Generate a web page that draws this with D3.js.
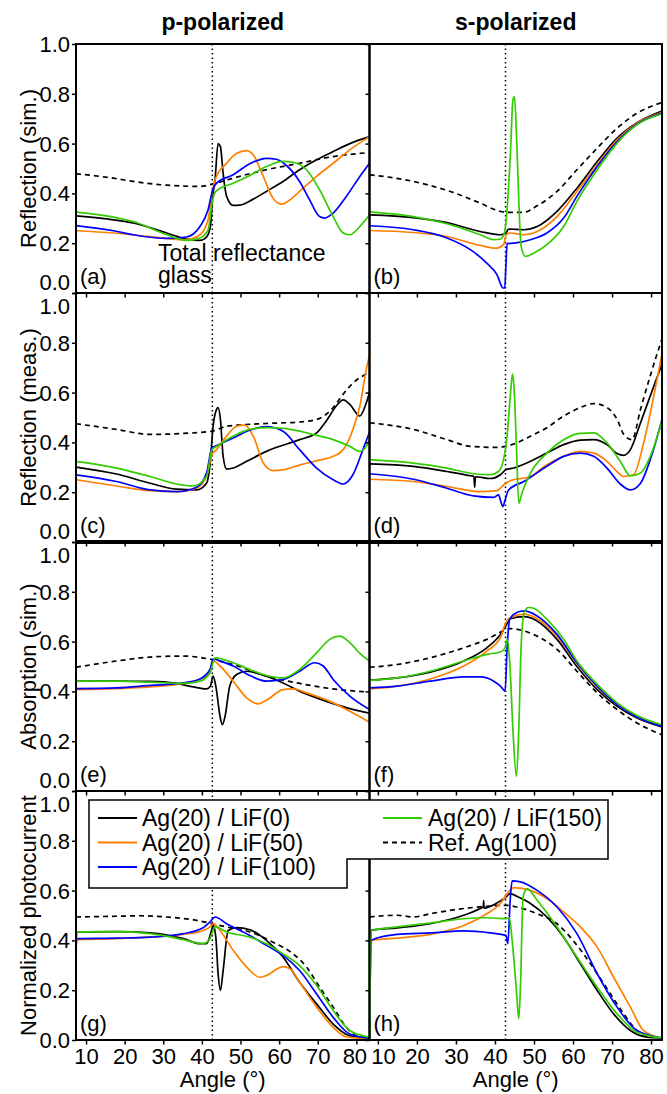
<!DOCTYPE html>
<html>
<head>
<meta charset="utf-8">
<script src="https://cdn.jsdelivr.net/npm/d3@7"></script>
<style>
  body { margin: 0; background: #fff; }
  text { font-family: "Liberation Sans", Arial, sans-serif; }
</style>
</head>
<body>
<div id="chart"></div>
<script>
// series labels and colours
const seriesNames = ["Ag(20) / LiF(0)", "Ag(20) / LiF(50)", "Ag(20) / LiF(100)", "Ag(20) / LiF(150)", "Ref. Ag(100)"];
const seriesColors = ["#000000", "#ff7f00", "#0000ff", "#33cc00", "#000000"];
const yTicks = [0, 0.2, 0.4, 0.6, 0.8, 1.0];
const xTicks = [10, 20, 30, 40, 50, 60, 70, 80];
const rowLabels = ["Reflection (sim.)", "Reflection (meas.)", "Absorption (sim.)", "Normalized photocurrent"];
const colTitles = ["p-polarized", "s-polarized"];
const criticalAngle = 42.7;

// (a) reflection sim, p
const a_lif0 = [[7.4,.31],[17.1,.294],[22.2,.281],[30.9,.241],[36,.217],[39.5,.211],[41.2,.225],[42.2,.267],[42.8,.388],[43.4,.455],[44.2,.6],[44.8,.588],[45.5,.48],[46.4,.388],[48.1,.352],[49.8,.353],[53.3,.377],[56.7,.408],[61,.448],[65.3,.495],[69.7,.535],[74,.568],[78.3,.6],[83.4,.628]];
const a_lif50 = [[7.4,.25],[17.1,.241],[22.2,.234],[30.9,.219],[36,.214],[39.5,.234],[41.6,.294],[42.6,.40],[43.4,.455],[46.4,.521],[49,.561],[51.6,.572],[53.3,.555],[55.9,.468],[58.4,.381],[60.6,.357],[62.8,.374],[65.3,.408],[69.7,.468],[74,.521],[78.3,.575],[83.4,.628]];
const a_lif100 = [[7.4,.271],[17.1,.25],[22.2,.234],[30.9,.219],[36,.225],[39.5,.267],[41.6,.334],[42.8,.414],[43.8,.441],[48.1,.475],[52.4,.519],[56.7,.541],[59.3,.537],[61.9,.512],[65.3,.448],[67.9,.374],[70.5,.307],[71.8,.301],[74,.321],[77.4,.388],[80.9,.468],[83.4,.521]];
const a_lif150 = [[7.4,.325],[17.1,.305],[22.2,.287],[30.9,.234],[36,.211],[39.5,.221],[41.6,.254],[42.8,.374],[43.6,.408],[48.1,.441],[52.4,.472],[56.7,.508],[61,.529],[63.6,.525],[67.1,.495],[70.5,.414],[74,.307],[76.6,.241],[78.3,.234],[80.9,.267],[83.4,.314]];
const a_ref = [[7.4,.479],[17.1,.461],[22.2,.448],[30.9,.433],[39.5,.428],[42.6,.437],[48,.461],[56.7,.495],[65.3,.521],[74,.548],[83.4,.564]];

// (b) reflection sim, s
const b_lif0 = [[7.9,.314],[19.1,.303],[27.7,.283],[36.2,.247],[41.4,.234],[42.8,.241],[43.5,.257],[47.4,.254],[50.8,.267],[55.9,.328],[61,.421],[66.2,.528],[71.3,.622],[76.4,.684],[82.8,.731]];
const b_lif50 = [[7.9,.251],[19.1,.243],[27.7,.227],[36.2,.191],[40.5,.18],[42.2,.194],[42.9,.234],[43.9,.241],[47.4,.234],[50.8,.247],[55.9,.307],[61,.408],[66.2,.515],[71.3,.615],[76.4,.682],[82.8,.725]];
const b_lif100 = [[7.9,.27],[19.1,.254],[27.7,.221],[33.7,.174],[37.9,.12],[40.5,.074],[42.1,.02],[42.5,.02],[42.8,.107],[43.1,.198],[44.8,.2],[49.1,.214],[53.3,.241],[57.6,.301],[61,.388],[66.2,.508],[71.3,.608],[76.4,.678],[82.8,.722]];
const b_lif150 = [[7.9,.326],[19.1,.307],[27.7,.278],[36.2,.234],[39.7,.214],[41.4,.217],[42.4,.241],[43.1,.334],[44,.575],[44.6,.775],[45,.789],[45.5,.642],[46.1,.374],[46.7,.187],[47.8,.147],[49.9,.16],[53.3,.194],[57.6,.267],[61,.368],[66.2,.495],[71.3,.602],[76.4,.676],[82.8,.719]];
const b_ref = [[7.9,.475],[19.1,.448],[27.7,.412],[36.2,.361],[40.5,.332],[42.8,.324],[47.4,.324],[50.8,.35],[55.9,.408],[61,.495],[66.2,.582],[71.3,.662],[76.4,.722],[82.8,.765]];

// (c) reflection measured, p
const c_lif0 = [[7.4,.301],[17.9,.273],[26.6,.236],[33.4,.212],[38.6,.209],[41.2,.236],[42.1,.31],[42.9,.465],[43.8,.533],[44.2,.54],[44.8,.492],[45.5,.344],[46.4,.293],[48.1,.297],[51.6,.324],[56.7,.364],[65.3,.411],[69.7,.438],[72.2,.486],[74.8,.546],[76.6,.571],[78.3,.553],[80.9,.506],[82.6,.56],[83.4,.6]];
const c_lif50 = [[7.4,.25],[17.9,.225],[26.6,.206],[33.4,.202],[38.6,.216],[41.2,.263],[42.6,.351],[43.8,.371],[46.4,.425],[49,.465],[51.1,.469],[53.3,.425],[55.9,.317],[58.4,.287],[61,.29],[65.3,.309],[69.7,.326],[74,.344],[76.6,.371],[79.1,.452],[80.9,.546],[82.6,.695],[83.4,.749]];
const c_lif100 = [[7.4,.27],[17.9,.243],[26.6,.209],[33.4,.202],[38.6,.22],[41.2,.277],[42.6,.378],[43.8,.387],[48.1,.418],[52.4,.449],[56.7,.463],[61,.445],[65.3,.371],[69.7,.297],[74,.25],[76.6,.233],[79.1,.27],[81.7,.371],[83.4,.441]];
const c_lif150 = [[7.4,.324],[17.9,.297],[26.6,.263],[33.4,.233],[37.8,.225],[41.2,.263],[42.6,.371],[43.8,.384],[48.1,.425],[52.4,.452],[56.7,.459],[61,.456],[65.3,.445],[69.7,.428],[74,.411],[78.3,.384],[80.9,.364],[82.6,.384],[83.4,.411]];
const c_ref = [[7.4,.475],[17.9,.452],[26.6,.432],[35.2,.436],[42.6,.445],[46.4,.465],[56.7,.476],[65.3,.482],[69.7,.492],[74,.54],[76.6,.594],[79.1,.638],[83.4,.681]];

// (d) reflection measured, s
const d_lif0 = [[7.9,.314],[19.1,.304],[27.7,.283],[33.7,.266],[34.6,.263],[34.8,.22],[35,.262],[38.8,.255],[41.4,.27],[42.8,.29],[44.8,.297],[49.1,.324],[53.3,.357],[57.6,.391],[61.9,.409],[65.3,.411],[68.7,.391],[71.3,.355],[73,.348],[74.7,.371],[77.3,.479],[79.8,.587],[82.8,.715]];
const d_lif50 = [[7.9,.252],[19.1,.243],[27.7,.223],[36.2,.202],[40.5,.206],[42.2,.229],[43.9,.246],[49.1,.263],[53.3,.31],[57.6,.344],[61.9,.364],[65.3,.357],[68.7,.324],[71.3,.283],[73,.263],[75.5,.27],[78.1,.398],[80.7,.587],[82.8,.755]];
const d_lif100 = [[7.9,.274],[19.1,.252],[27.7,.216],[34.5,.185],[39.7,.179],[40.9,.189],[41.5,.162],[42,.142],[42.6,.169],[43.5,.209],[47.4,.243],[53.3,.304],[57.6,.344],[61.9,.357],[65.3,.344],[68.7,.297],[72.1,.233],[74.7,.209],[77.3,.236],[79.8,.331],[82.8,.492]];
const d_lif150 = [[7.9,.331],[19.1,.317],[27.7,.297],[34.5,.274],[38.8,.27],[40.9,.283],[42.2,.331],[43.1,.425],[44,.6],[44.5,.675],[45,.587],[45.5,.384],[46.1,.155],[46.9,.196],[49.1,.277],[53.3,.357],[57.6,.411],[61.9,.436],[65.3,.438],[68.7,.398],[72.1,.324],[74.7,.266],[77.3,.277],[79.8,.344],[82.8,.486]];
const d_ref = [[7.9,.479],[19.1,.452],[27.7,.411],[33.7,.384],[40.5,.38],[43.9,.389],[49.1,.425],[53.3,.459],[57.6,.506],[61.9,.54],[65.3,.556],[68.7,.54],[71.3,.492],[73,.432],[75.1,.411],[77.3,.533],[79.8,.668],[82.8,.816]];

// (e) absorption sim, p
const e_lif0 = [[7.4,.441],[17.9,.441],[26.6,.44],[33.4,.432],[37.8,.418],[41.2,.41],[42.2,.421],[42.9,.461],[43.6,.421],[44.7,.3],[45.3,.266],[46,.3],[47.2,.421],[49,.468],[51.6,.481],[56.7,.461],[61,.434],[65.3,.401],[69.7,.374],[74,.351],[78.3,.331],[83.4,.313]];
const e_lif50 = [[7.4,.407],[17.9,.411],[26.6,.418],[35.2,.432],[39.5,.448],[42.1,.475],[42.9,.522],[44.7,.502],[48.1,.441],[51.6,.374],[54.6,.35],[56.7,.364],[61,.407],[63.6,.41],[67.1,.394],[74,.354],[78.3,.32],[83.4,.276]];
const e_lif100 = [[7.4,.411],[17.9,.414],[26.6,.424],[35.2,.434],[39.5,.45],[42.1,.488],[42.9,.531],[44.7,.522],[48.1,.502],[52.4,.464],[56.7,.441],[61,.448],[65.3,.481],[69.2,.515],[71.4,.502],[74,.448],[78.3,.381],[83.4,.327]];
const e_lif150 = [[7.4,.441],[17.9,.441],[26.6,.437],[35.2,.432],[39.5,.441],[42.1,.475],[43.4,.535],[48.1,.515],[52.4,.488],[56.7,.464],[61,.454],[65.3,.488],[69.7,.555],[73.1,.609],[75.7,.622],[78.3,.596],[80.9,.553],[83.4,.522]];
const e_ref = [[7.4,.497],[17.9,.522],[26.6,.538],[35.2,.542],[42.6,.528],[48.1,.508],[56.7,.461],[65.3,.432],[74,.41],[83.4,.397]];

// (f) absorption sim, s
const f_lif0 = [[7.9,.445],[14.9,.454],[23.4,.477],[32,.522],[37.9,.575],[41.4,.629],[42.8,.663],[43.9,.692],[47.4,.7],[50.8,.683],[55.9,.609],[61,.5],[66.2,.407],[71.3,.34],[76.4,.293],[82.8,.257]];
const f_lif50 = [[7.9,.41],[14.9,.421],[23.4,.45],[32,.502],[37.9,.562],[41.4,.616],[42.8,.676],[43.9,.696],[47.4,.71],[50.8,.692],[55.9,.622],[61,.512],[66.2,.418],[71.3,.347],[76.4,.297],[82.8,.262]];
const f_lif100 = [[7.9,.414],[14.9,.421],[23.4,.441],[32,.458],[36.2,.458],[39.7,.441],[41.4,.421],[42.6,.401],[43.1,.569],[43.8,.69],[45.6,.717],[47.4,.723],[50.8,.703],[55.9,.629],[61,.515],[66.2,.421],[71.3,.347],[76.4,.297],[82.8,.259]];
const f_lif150 = [[7.9,.444],[14.9,.454],[23.4,.481],[32,.522],[37.9,.549],[41.4,.558],[42.6,.575],[43.1,.609],[43.8,.515],[44.6,.246],[45.5,.058],[46.1,.246],[46.7,.582],[47.5,.717],[48.6,.737],[49.9,.734],[53.3,.69],[57.6,.609],[61,.522],[66.2,.428],[71.3,.354],[76.4,.303],[82.8,.266]];
const f_ref = [[7.9,.497],[14.9,.508],[23.4,.535],[32,.575],[37.9,.609],[42.2,.643],[43.9,.652],[47.4,.643],[50.8,.622],[55.9,.569],[61,.481],[66.2,.394],[71.3,.327],[76.4,.273],[82.8,.226]];

// (g) photocurrent, p
const g_lif0 = [[7.4,.434],[17.9,.435],[26.6,.43],[35.2,.407],[39.5,.387],[41.2,.387],[42.5,.44],[42.9,.46],[43.6,.413],[44.2,.266],[44.8,.199],[45.5,.279],[46.8,.44],[49,.451],[52.4,.443],[56.7,.4],[61,.333],[65.3,.232],[69.7,.145],[74,.064],[78.3,.017],[83.4,.008]];
const g_lif50 = [[7.4,.403],[17.9,.407],[26.6,.413],[35.2,.424],[40.3,.44],[42.1,.454],[42.9,.467],[44.7,.44],[48.1,.36],[51.6,.293],[55,.252],[56.7,.259],[61,.295],[62.8,.286],[65.3,.232],[69.7,.132],[74,.051],[77.4,.013],[83.4,.004]];
const g_lif100 = [[7.4,.36],[7.6,.407],[17.9,.409],[26.6,.413],[35.2,.427],[40.3,.451],[42.1,.474],[43.4,.494],[46.4,.467],[52.4,.42],[56.7,.38],[61,.34],[65.3,.279],[69.7,.185],[74,.091],[78.3,.024],[83.4,.007]];
const g_lif150 = [[7.4,.366],[7.7,.434],[17.9,.435],[26.6,.427],[35.2,.403],[40.3,.387],[42.1,.407],[43.4,.454],[46.4,.434],[52.4,.413],[56.7,.387],[61,.346],[65.3,.299],[69.7,.219],[74,.118],[78.3,.038],[83.4,.011]];
const g_ref = [[7.4,.494],[17.9,.497],[24,.499],[30.9,.494],[39.5,.478],[42.6,.467],[46.4,.454],[52.4,.434],[58.4,.393],[63.6,.346],[67.1,.293],[70.5,.212],[74,.132],[77.4,.051],[80,.017],[83.4,.011]];

// (h) photocurrent, s
const h_lif0 = [[7.9,0],[8.2,.44],[14.9,.45],[23.4,.467],[32,.501],[36.2,.528],[37,.535],[37.1,.56],[37.2,.53],[40.5,.55],[42.8,.574],[43.9,.588],[45.6,.577],[49.1,.548],[53.3,.494],[57.6,.413],[61.9,.306],[66.2,.199],[70.4,.105],[74.7,.038],[79,.011],[82.8,.008]];
const h_lif50 = [[7.9,0],[8.2,.4],[14.9,.409],[23.4,.424],[32,.46],[37.9,.507],[41.4,.548],[43.5,.595],[44.8,.612],[49.1,.601],[53.3,.568],[57.6,.514],[61.9,.454],[66.2,.373],[70.4,.252],[74.7,.132],[78.1,.038],[82.8,.008]];
const h_lif100 = [[7.9,0],[8.2,.4],[14.9,.424],[23.4,.43],[32,.438],[38.8,.43],[42.8,.42],[43.3,.387],[43.9,.561],[44.4,.639],[46.5,.635],[50.8,.601],[55.9,.534],[61,.427],[66.2,.266],[71.3,.132],[76.4,.038],[82.8,.008]];
const h_lif150 = [[7.9,0],[8.2,.44],[14.9,.454],[23.4,.47],[32,.487],[37.9,.491],[42.8,.487],[43.7,.491],[44.4,.4],[45.5,.199],[46.1,.085],[46.5,.199],[47.2,.574],[48.2,.608],[50.8,.561],[55.9,.454],[61,.333],[66.2,.212],[71.3,.105],[76.4,.031],[82.8,.008]];
const h_ref = [[7.9,.494],[14.9,.501],[19.1,.494],[23.4,.507],[32,.528],[37.9,.537],[42.8,.541],[45.6,.534],[50.8,.507],[55.9,.467],[59.3,.413],[62.7,.346],[66.2,.266],[69.6,.185],[73,.105],[76.4,.038],[79.8,.013],[82.8,.011]];

const panels = [
  {row: 0, col: 0, letter: "(a)", series: [a_lif0, a_lif50, a_lif100, a_lif150, a_ref]},
  {row: 0, col: 1, letter: "(b)", series: [b_lif0, b_lif50, b_lif100, b_lif150, b_ref]},
  {row: 1, col: 0, letter: "(c)", series: [c_lif0, c_lif50, c_lif100, c_lif150, c_ref]},
  {row: 1, col: 1, letter: "(d)", series: [d_lif0, d_lif50, d_lif100, d_lif150, d_ref]},
  {row: 2, col: 0, letter: "(e)", series: [e_lif0, e_lif50, e_lif100, e_lif150, e_ref]},
  {row: 2, col: 1, letter: "(f)", series: [f_lif0, f_lif50, f_lif100, f_lif150, f_ref]},
  {row: 3, col: 0, letter: "(g)", series: [g_lif0, g_lif50, g_lif100, g_lif150, g_ref]},
  {row: 3, col: 1, letter: "(h)", series: [h_lif0, h_lif50, h_lif100, h_lif150, h_ref]}
];

var W = 667, H = 1094;
var FONT = 22;
var cols = [
  {x0: 76, x1: 369.5, domain: [7.4, 83.4]},
  {x0: 369.5, x1: 662, domain: [7.85, 82.8]}
];
var rowTop = [44, 293, 542, 791];
var rowH = 249;

var svg = d3.select("#chart").append("svg")
  .attr("width", W)
  .attr("height", H);

// draw order: dashed ref first, then lif0, 50, 100, 150 on top
var drawOrder = [4, 0, 1, 2, 3];

panels.forEach(function(p, i) {
  var c = cols[p.col];
  var top = rowTop[p.row];
  var x = d3.scaleLinear().domain(c.domain).range([c.x0, c.x1]);
  var y = d3.scaleLinear().domain([0, 1]).range([top + rowH, top]);

  var g = svg.append("g");

  g.append("clipPath").attr("id", "clip" + i)
    .append("rect")
    .attr("x", c.x0).attr("y", top)
    .attr("width", c.x1 - c.x0).attr("height", rowH);

  // critical angle
  g.append("line")
    .attr("x1", x(criticalAngle)).attr("x2", x(criticalAngle))
    .attr("y1", top).attr("y2", top + rowH)
    .attr("stroke", "#000").attr("stroke-width", 1.5)
    .attr("stroke-dasharray", "1.5,3");

  var line = d3.line()
    .x(d => x(d[0]))
    .y(d => y(d[1]))
    .curve(d3.curveMonotoneX);

  var curves = g.append("g").attr("clip-path", "url(#clip" + i + ")");
  drawOrder.forEach(function(k) {
    curves.append("path")
      .datum(p.series[k])
      .attr("d", line)
      .attr("fill", "none")
      .attr("stroke", seriesColors[k])
      .attr("stroke-width", 1.7)
      .attr("stroke-dasharray", k == 4 ? "5,4" : null);
  });

  // x axis (ticks point down)
  var xa = g.append("g").attr("transform", "translate(0," + (top + rowH) + ")");
  xa.call(d3.axisBottom(x).tickValues(d3.range(15, 80, 10)).tickSize(2.5).tickFormat(""));
  xa.call(d3.axisBottom(x).tickValues(xTicks).tickSize(4.5).tickPadding(4)
    .tickFormat(p.row == 3 ? d3.format("d") : ""));
  xa.selectAll(".domain").remove();
  xa.selectAll("line").attr("stroke-width", 1.5);
  xa.selectAll("text").attr("font-size", FONT).attr("font-family", "Liberation Sans, Arial, sans-serif").attr("fill", "#000")
    .attr("dx", function(d) {
      // the "80" of the left panel and the "10" of the right one sit side by side
      if (p.col == 0 && d == 80) return -2;
      if (p.col == 1 && d == 10) return 5;
      return 0;
    });

  // y axis (ticks point left)
  var ya = g.append("g").attr("transform", "translate(" + c.x0 + ",0)");
  ya.call(d3.axisLeft(y).tickValues(d3.range(0.1, 1, 0.2)).tickSize(2.5).tickFormat(""));
  ya.call(d3.axisLeft(y).tickValues(yTicks).tickSize(4).tickPadding(2)
    .tickFormat(p.col == 0 ? d3.format(".1f") : ""));
  ya.selectAll(".domain").remove();
  ya.selectAll("line").attr("stroke-width", 1.5);
  ya.selectAll("text")
    .attr("font-size", FONT).attr("font-family", "Liberation Sans, Arial, sans-serif").attr("fill", "#000")
    .attr("dy", function(d) {
      if (d === 0 && p.row < 3) return "-0.16em";
      if (d === 1 && p.row > 0) return "0.94em";
      return "0.34em";
    });

  // frame
  g.append("rect")
    .attr("x", c.x0).attr("y", top)
    .attr("width", c.x1 - c.x0).attr("height", rowH)
    .attr("fill", "none").attr("stroke", "#000").attr("stroke-width", 2);

  // panel letter
  g.append("text")
    .attr("x", c.x0 + 4).attr("y", top + rowH - 9)
    .attr("font-size", FONT)
    .text(p.letter);
});

// thick separator between measured and simulated absorption rows
svg.append("line")
  .attr("x1", cols[0].x0 - 1).attr("x2", cols[1].x1 + 1)
  .attr("y1", rowTop[2]).attr("y2", rowTop[2])
  .attr("stroke", "#000").attr("stroke-width", 4);

// row labels
rowLabels.forEach(function(t, r) {
  svg.append("text")
    .attr("transform", "translate(36," + (rowTop[r] + rowH / 2) + ") rotate(-90)")
    .attr("text-anchor", "middle")
    .attr("font-size", FONT)
    .text(t);
});

// column titles + x labels
colTitles.forEach(function(t, k) {
  svg.append("text")
    .attr("x", (cols[k].x0 + cols[k].x1) / 2)
    .attr("y", 30)
    .attr("text-anchor", "middle")
    .attr("font-size", 23)
    .attr("font-weight", "bold")
    .text(t);
  svg.append("text")
    .attr("x", (cols[k].x0 + cols[k].x1) / 2)
    .attr("y", 1087)
    .attr("text-anchor", "middle")
    .attr("font-size", FONT)
    .text("Angle (°)");
});

// annotation in (a), two lines in one text element
var note = svg.append("text").attr("x", 158).attr("y", 261).attr("font-size", 23);
note.append("tspan").attr("x", 158).text("Total reflectance");
note.append("tspan").attr("x", 158).attr("dy", 22).text("glass");

// legend (two overlapping boxes drawn as one outline)
svg.append("path")
  .attr("d", "M89,800 H608 V859 H347 V888 H89 Z")
  .attr("fill", "#fff").attr("stroke", "#000").attr("stroke-width", 1.5);

var legendLeft = [0, 1, 2];
var legendRight = [3, 4];
legendLeft.forEach(function(k, j) {
  var yy = 818 + j * 24.5;
  svg.append("line").attr("x1", 98).attr("x2", 137).attr("y1", yy).attr("y2", yy)
    .attr("stroke", seriesColors[k]).attr("stroke-width", 1.8);
  svg.append("text").attr("x", 142).attr("y", yy + 8).attr("font-size", 23).text(seriesNames[k]);
});
legendRight.forEach(function(k, j) {
  var yy = 818 + j * 24.5;
  svg.append("line").attr("x1", 383).attr("x2", 422).attr("y1", yy).attr("y2", yy)
    .attr("stroke", seriesColors[k]).attr("stroke-width", 1.8)
    .attr("stroke-dasharray", k == 4 ? "5,4" : null);
  svg.append("text").attr("x", 428).attr("y", yy + 8).attr("font-size", 23).text(seriesNames[k]);
});
</script>
</body>
</html>
